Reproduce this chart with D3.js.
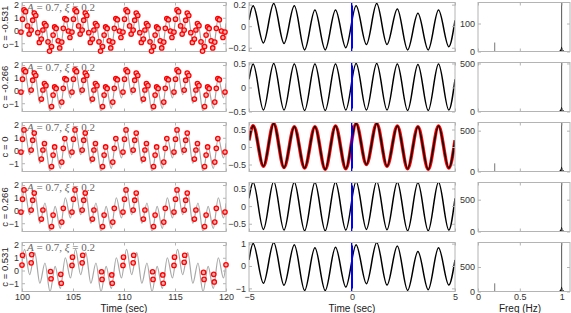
<!DOCTYPE html>
<html><head><meta charset="utf-8">
<script src="https://cdn.jsdelivr.net/npm/d3@7"></script>
<style>body{margin:0;background:#fff} svg{display:block} text{font-family:"Liberation Sans",Arial,sans-serif}</style>
</head><body><svg id="c" width="571" height="313"></svg>
<script>
// ---------------- DATA ----------------
const rowLabels = ["c = -0.531","c = -0.266","c = 0","c = 0.266","c = 0.531"];
const timeTicks = [100,105,110,115,120];
const sigTicks = [-1,0,1,2];
// gray signal: extrema (time, value)
const sigT = [100,100.25,100.75,101.25,101.75,102.25,102.75,103.25,103.75,104.25,104.75,
              105.25,105.75,106.25,106.75,107.25,107.75,108.25,108.75,109.25,109.75,
              110.25,110.75,111.25,111.75,112.25,112.75,113.25,113.75,114.25,114.75,
              115.25,115.75,116.25,116.75,117.25,117.75,118.25,118.75,119.25,119.75,120];
const sigV = [0.57,1.67,-0.33,1.41,-1.0,0.59,-1.67,0.33,-1.41,1.0,-0.59,
              1.67,-0.33,1.41,-1.0,0.59,-1.67,0.33,-1.41,1.0,-0.59,
              1.67,-0.33,1.41,-1.0,0.59,-1.67,0.33,-1.41,1.0,-0.59,
              1.67,-0.33,1.41,-1.0,0.59,-1.67,0.33,-1.41,1.0,-0.59,0.57];
// red sample dots per row: [time, value]
const dotsRow1 = [
 [99.9,-0.12],[100.05,0.89],[100.2,1.62],[100.35,1.48],[100.55,0.36],[100.7,-0.28],
 [100.9,0.03],[101.05,0.81],[101.2,1.37],[101.35,1.18],[101.55,-0.17],[101.7,-0.94],
 [101.9,-0.67],[102.05,0.04],[102.2,0.55],[102.35,0.38],[102.55,-0.89],[102.7,-1.62],
 [102.9,-1.26],[103.05,-0.36],[103.2,0.28],[103.35,0.16],[103.55,-0.81],[103.7,-1.37],
 [103.9,-0.91],[104.05,0.17],[104.2,0.94],[104.35,0.85],[104.55,-0.04],[104.7,-0.55],
 [104.9,-0.12],[105.05,0.89],[105.2,1.62],[105.35,1.48],[105.55,0.36],[105.7,-0.28],
 [105.9,0.03],[106.05,0.81],[106.2,1.37],[106.35,1.18],[106.55,-0.17],[106.7,-0.94],
 [106.9,-0.67],[107.05,0.04],[107.2,0.55],[107.35,0.38],[107.55,-0.89],[107.7,-1.62],
 [107.9,-1.26],[108.05,-0.36],[108.2,0.28],[108.35,0.16],[108.55,-0.81],[108.7,-1.37],
 [108.9,-0.91],[109.05,0.17],[109.2,0.94],[109.35,0.85],[109.55,-0.04],[109.7,-0.55],
 [109.9,-0.12],[110.05,0.89],[110.2,1.62],[110.35,1.48],[110.55,0.36],[110.7,-0.28],
 [110.9,0.03],[111.05,0.81],[111.2,1.37],[111.35,1.18],[111.55,-0.17],[111.7,-0.94],
 [111.9,-0.67],[112.05,0.04],[112.2,0.55],[112.35,0.38],[112.55,-0.89],[112.7,-1.62],
 [112.9,-1.26],[113.05,-0.36],[113.2,0.28],[113.35,0.16],[113.55,-0.81],[113.7,-1.37],
 [113.9,-0.91],[114.05,0.17],[114.2,0.94],[114.35,0.85],[114.55,-0.04],[114.7,-0.55],
 [114.9,-0.12],[115.05,0.89],[115.2,1.62],[115.35,1.48],[115.55,0.36],[115.7,-0.28],
 [115.9,0.03],[116.05,0.81],[116.2,1.37],[116.35,1.18],[116.55,-0.17],[116.7,-0.94],
 [116.9,-0.67],[117.05,0.04],[117.2,0.55],[117.35,0.38],[117.55,-0.89],[117.7,-1.62],
 [117.9,-1.26],[118.05,-0.36],[118.2,0.28],[118.35,0.16],[118.55,-0.81],[118.7,-1.37],
 [118.9,-0.91],[119.05,0.17],[119.2,0.94],[119.35,0.85],[119.55,-0.04],[119.7,-0.55],
 [119.9,-0.12]];
const dotsRow2 = [
 [99.9,-0.12],[100.05,0.89],[100.2,1.62],[100.35,1.48],
 [100.9,0.03],[101.05,0.81],[101.2,1.37],[101.35,1.18],
 [101.9,-0.67],[102.05,0.04],[102.2,0.55],[102.35,0.38],
 [102.9,-1.26],[103.05,-0.36],[103.2,0.28],[103.35,0.16],
 [103.9,-0.91],[104.05,0.17],[104.2,0.94],[104.35,0.85],
 [104.9,-0.12],[105.05,0.89],[105.2,1.62],[105.35,1.48],
 [105.9,0.03],[106.05,0.81],[106.2,1.37],[106.35,1.18],
 [106.9,-0.67],[107.05,0.04],[107.2,0.55],[107.35,0.38],
 [107.9,-1.26],[108.05,-0.36],[108.2,0.28],[108.35,0.16],
 [108.9,-0.91],[109.05,0.17],[109.2,0.94],[109.35,0.85],
 [109.9,-0.12],[110.05,0.89],[110.2,1.62],[110.35,1.48],
 [110.9,0.03],[111.05,0.81],[111.2,1.37],[111.35,1.18],
 [111.9,-0.67],[112.05,0.04],[112.2,0.55],[112.35,0.38],
 [112.9,-1.26],[113.05,-0.36],[113.2,0.28],[113.35,0.16],
 [113.9,-0.91],[114.05,0.17],[114.2,0.94],[114.35,0.85],
 [114.9,-0.12],[115.05,0.89],[115.2,1.62],[115.35,1.48],
 [115.9,0.03],[116.05,0.81],[116.2,1.37],[116.35,1.18],
 [116.9,-0.67],[117.05,0.04],[117.2,0.55],[117.35,0.38],
 [117.9,-1.26],[118.05,-0.36],[118.2,0.28],[118.35,0.16],
 [118.9,-0.91],[119.05,0.17],[119.2,0.94],[119.35,0.85],
 [119.9,-0.12]];
const dotsRow3 = [
 [99.9,-0.12],[100.05,0.89],[100.2,1.62],
 [100.9,0.03],[101.05,0.81],[101.2,1.37],
 [101.9,-0.67],[102.05,0.04],[102.2,0.55],
 [102.9,-1.26],[103.05,-0.36],[103.2,0.28],
 [103.9,-0.91],[104.05,0.17],[104.2,0.94],
 [104.9,-0.12],[105.05,0.89],[105.2,1.62],
 [105.9,0.03],[106.05,0.81],[106.2,1.37],
 [106.9,-0.67],[107.05,0.04],[107.2,0.55],
 [107.9,-1.26],[108.05,-0.36],[108.2,0.28],
 [108.9,-0.91],[109.05,0.17],[109.2,0.94],
 [109.9,-0.12],[110.05,0.89],[110.2,1.62],
 [110.9,0.03],[111.05,0.81],[111.2,1.37],
 [111.9,-0.67],[112.05,0.04],[112.2,0.55],
 [112.9,-1.26],[113.05,-0.36],[113.2,0.28],
 [113.9,-0.91],[114.05,0.17],[114.2,0.94],
 [114.9,-0.12],[115.05,0.89],[115.2,1.62],
 [115.9,0.03],[116.05,0.81],[116.2,1.37],
 [116.9,-0.67],[117.05,0.04],[117.2,0.55],
 [117.9,-1.26],[118.05,-0.36],[118.2,0.28],
 [118.9,-0.91],[119.05,0.17],[119.2,0.94],
 [119.9,-0.12]];
const dotsRow4 = [
 [99.9,-0.12],[100.05,0.89],[100.2,1.62],
 [100.9,0.03],[101.05,0.81],[101.2,1.37],
 [101.9,-0.67],[102.05,0.04],
 [102.9,-1.26],[103.05,-0.36],
 [103.9,-0.91],[104.05,0.17],
 [104.9,-0.12],[105.05,0.89],[105.2,1.62],
 [105.9,0.03],[106.05,0.81],[106.2,1.37],
 [106.9,-0.67],[107.05,0.04],
 [107.9,-1.26],[108.05,-0.36],
 [108.9,-0.91],[109.05,0.17],
 [109.9,-0.12],[110.05,0.89],[110.2,1.62],
 [110.9,0.03],[111.05,0.81],[111.2,1.37],
 [111.9,-0.67],[112.05,0.04],
 [112.9,-1.26],[113.05,-0.36],
 [113.9,-0.91],[114.05,0.17],
 [114.9,-0.12],[115.05,0.89],[115.2,1.62],
 [115.9,0.03],[116.05,0.81],[116.2,1.37],
 [116.9,-0.67],[117.05,0.04],
 [117.9,-1.26],[118.05,-0.36],
 [118.9,-0.91],[119.05,0.17],
 [119.9,-0.12]];
const dotsRow5 = [
 [100,0.43],[100.05,1.2],[100.9,0.6],[100.95,1.25],
 [102.8,-0.08],[102.85,-0.65],[103.8,-0.3],[103.85,-1.0],
 [104.9,0.4],[104.95,1.05],[105.9,0.6],[105.95,1.2],
 [107.8,-0.1],[107.85,-0.7],[108.8,-0.35],[108.85,-1.0],
 [109.9,0.4],[109.95,1.05],[110.9,0.6],[110.95,1.2],
 [112.8,-0.1],[112.85,-0.7],[113.8,-0.35],[113.85,-1.0],
 [114.9,0.4],[114.95,1.05],[115.9,0.65],[115.95,1.2],
 [117.8,-0.15],[117.85,-0.7],[118.8,-0.3],[118.85,-0.9],
 [120,0.45]];
const dotRows = [dotsRow1,dotsRow2,dotsRow3,dotsRow4,dotsRow5];
// middle column: lag curves (extrema)
const lagTicks = [-5,0,5];
const lagYTicks = [[-0.2,0,0.2],[-0.5,0,0.5],[-0.5,0,0.5],[-0.5,0,0.5],[-1,0,1]];
const lagT = [-5,-4.8,-4.3,-3.8,-3.3,-2.8,-2.3,-1.8,-1.3,-0.8,-0.3,0.2,0.7,1.2,1.7,2.2,2.7,3.2,3.7,4.2,4.7,5];
const lagV = [
  [0.06,0.19,-0.155,0.21,-0.16,0.19,-0.22,0.15,-0.22,0.15,-0.2,0.19,-0.17,0.21,-0.17,0.16,-0.22,0.12,-0.22,0.15,-0.19,0.055],
  [0.17,0.49,-0.47,0.5,-0.47,0.49,-0.48,0.49,-0.48,0.49,-0.47,0.5,-0.47,0.5,-0.47,0.49,-0.48,0.48,-0.48,0.49,-0.47,0.17],
  [0.19,0.61,-0.55,0.67,-0.59,0.58,-0.6,0.58,-0.64,0.6,-0.62,0.67,-0.5,0.67,-0.55,0.6,-0.62,0.58,-0.64,0.6,-0.6,0.19],
  [0.22,0.68,-0.66,0.7,-0.68,0.68,-0.7,0.67,-0.7,0.68,-0.68,0.7,-0.66,0.7,-0.67,0.68,-0.7,0.66,-0.7,0.68,-0.68,0.22],
  [0.27,1.0,-0.77,1.05,-0.86,0.95,-1.09,0.82,-1.09,0.84,-0.94,0.95,-0.79,1.05,-0.85,0.89,-1.09,0.65,-1.06,0.82,-0.85,0.27]
];
const lagDomains = [[-0.235,0.22],[-0.5,0.52],[-0.7,0.7],[-0.72,0.67],[-1.14,1.05]];
// right column: spectra
const freqTicks = [0,0.5,1];
const specYTicks = [[0,100],[0,500],[0,500],[0,500],[0,500]];
const specMax = [175,510,600,770,1000];
const lowF = 0.2;
const lowAmp = [32,0,100,0,167];
const peakF = 1.0;
const peakAmp = [5000,5000,5000,5000,5000];
const baseF = [0.965,0.985,1.0,1.015,1.035];
const baseV = [[0,6,18,6,0],[0,18,50,18,0],[0,20,60,20,0],[0,25,75,25,0],[0,35,100,35,0]];

// ---------------- LAYOUT ----------------
const svg = d3.select("#c");
const rowTop = [2.5,62.5,122.5,182.5,242.5], rowH = 49;
const C1 = [22,226], C2 = [249,455], C3 = [478,570];
const boxCol = "#b4b4b4", tickCol = "#333";
const defs = svg.append("defs");

function box(x0,x1,y0,id){
  defs.append("clipPath").attr("id",id).append("rect").attr("x",x0).attr("y",y0).attr("width",x1-x0).attr("height",rowH);
}
function axes(g,x,y,xt,yt,showX,xfmt,yfmt){
  const [x0,x1]=x.range(), [y1,y0]=y.range();
  g.append("rect").attr("x",x0).attr("y",y0).attr("width",x1-x0).attr("height",y1-y0)
    .attr("fill","none").attr("stroke",boxCol).attr("stroke-width",1);
  const st = s => { s.select(".domain").remove(); s.selectAll("line").attr("stroke",boxCol);
    s.selectAll("text").attr("fill",tickCol).style("font-size","9px"); };
  g.append("g").attr("transform",`translate(${x0},0)`).call(d3.axisLeft(y).tickValues(yt).tickSizeInner(-3).tickSizeOuter(0).tickPadding(3).tickFormat(yfmt)).call(st);
  g.append("g").attr("transform",`translate(${x1},0)`).call(d3.axisRight(y).tickValues(yt).tickSizeInner(-3).tickSizeOuter(0).tickFormat("")).call(st);
  g.append("g").attr("transform",`translate(0,${y1})`).call(d3.axisBottom(x).tickValues(xt).tickSizeInner(-3).tickSizeOuter(0).tickPadding(2).tickFormat(showX?xfmt:"")).call(st);
  g.append("g").attr("transform",`translate(0,${y0})`).call(d3.axisTop(x).tickValues(xt).tickSizeInner(-3).tickSizeOuter(0).tickFormat("")).call(st);
}

for(let r=0;r<5;r++){
  const y0=rowTop[r], y1=y0+rowH, last=r===4;
  // ---- col 1
  const x1s=d3.scaleLinear().domain([100,120]).range(C1);
  const y1s=d3.scaleLinear().domain([-1.65,2.2]).range([y1,y0]);
  box(C1[0],C1[1],y0,"k1"+r);
  const g1=svg.append("g");
  const p1=g1.append("g").attr("clip-path",`url(#k1${r})`);
  const sig=d3.range(sigT.length).map(i=>[sigT[i],sigV[i]]);
  p1.append("path").attr("d",d3.line().x(d=>x1s(d[0])).y(d=>y1s(d[1])).curve(d3.curveMonotoneX)(sig))
    .attr("fill","none").attr("stroke","#a8a8a8").attr("stroke-width",1.2);
  axes(g1,x1s,y1s,timeTicks,sigTicks,last,d3.format("d"),d3.format("d"));
  const tt=g1.append("text").attr("x",27).attr("y",y0+8.5).attr("fill","#666")
    .style("font-family","'Liberation Serif','DejaVu Serif',serif").style("font-size","11px");
  tt.append("tspan").style("font-style","italic").text("A");
  tt.append("tspan").text(" = 0.7,  ");
  tt.append("tspan").style("font-style","italic").text("ξ");
  tt.append("tspan").text(" = 0.2");
  g1.append("g").selectAll("circle").data(dotRows[r]).join("circle")
    .attr("cx",d=>x1s(d[0])).attr("cy",d=>y1s(Math.max(d[1],-1.62))).attr("r",2.2)
    .attr("fill","#ffb0b0").attr("stroke","#f00").attr("stroke-width",1.3);
  g1.append("text").attr("transform",`translate(8,${y0+rowH/2}) rotate(-90)`).attr("text-anchor","middle")
    .attr("fill","#222").style("font-size","9.5px").text(rowLabels[r]);

  // ---- col 2
  const x2s=d3.scaleLinear().domain([-5,5]).range(C2);
  const y2s=d3.scaleLinear().domain(lagDomains[r]).range([y1,y0]);
  box(C2[0],C2[1],y0,"k2"+r);
  const g2=svg.append("g");
  const p2=g2.append("g").attr("clip-path",`url(#k2${r})`);
  const lag=d3.range(lagT.length).map(i=>[lagT[i],lagV[r][i]]);
  const ln=d3.line().x(d=>x2s(d[0])).y(d=>y2s(d[1])).curve(d3.curveMonotoneX);
  if(r===2) p2.append("path").attr("d",ln(lag)).attr("fill","none").attr("stroke","#f00").attr("stroke-width",3.4);
  p2.append("path").attr("d",ln(lag)).attr("fill","none").attr("stroke","#000").attr("stroke-width",1.5);
  p2.append("line").attr("x1",x2s(0)).attr("x2",x2s(0)).attr("y1",y0).attr("y2",y1).attr("stroke","#0000ff").attr("stroke-width",2);
  axes(g2,x2s,y2s,lagTicks,lagYTicks[r],last,d3.format("d"),d3.format("~g"));

  // ---- col 3
  const x3s=d3.scaleLinear().domain([0,1.1]).range(C3);
  const y3s=d3.scaleLinear().domain([0,specMax[r]]).range([y1,y0]);
  box(C3[0],C3[1],y0,"k3"+r);
  const g3=svg.append("g");
  const p3=g3.append("g").attr("clip-path",`url(#k3${r})`);
  if(lowAmp[r]>0) p3.append("line").attr("x1",x3s(lowF)).attr("x2",x3s(lowF)).attr("y1",y3s(0)).attr("y2",y3s(lowAmp[r])).attr("stroke","#777").attr("stroke-width",1);
  p3.append("line").attr("x1",x3s(peakF)).attr("x2",x3s(peakF)).attr("y1",y3s(0)).attr("y2",y3s(peakAmp[r])).attr("stroke","#555").attr("stroke-width",1);
  const bs=d3.range(baseF.length).map(i=>[baseF[i],baseV[r][i]]);
  p3.append("path").attr("d",d3.area().x(d=>x3s(d[0])).y0(y3s(0)).y1(d=>y3s(d[1]))(bs)).attr("fill","#000");
  axes(g3,x3s,y3s,freqTicks,specYTicks[r],last,d3.format("~g"),d3.format("d"));
}
svg.append("text").attr("x",124).attr("y",311.5).attr("text-anchor","middle").attr("fill","#222").style("font-size","10px").text("Time (sec)");
svg.append("text").attr("x",352).attr("y",311.5).attr("text-anchor","middle").attr("fill","#222").style("font-size","10px").text("Time (sec)");
svg.append("text").attr("x",520).attr("y",311.5).attr("text-anchor","middle").attr("fill","#222").style("font-size","10px").text("Freq (Hz)");
</script></body></html>
